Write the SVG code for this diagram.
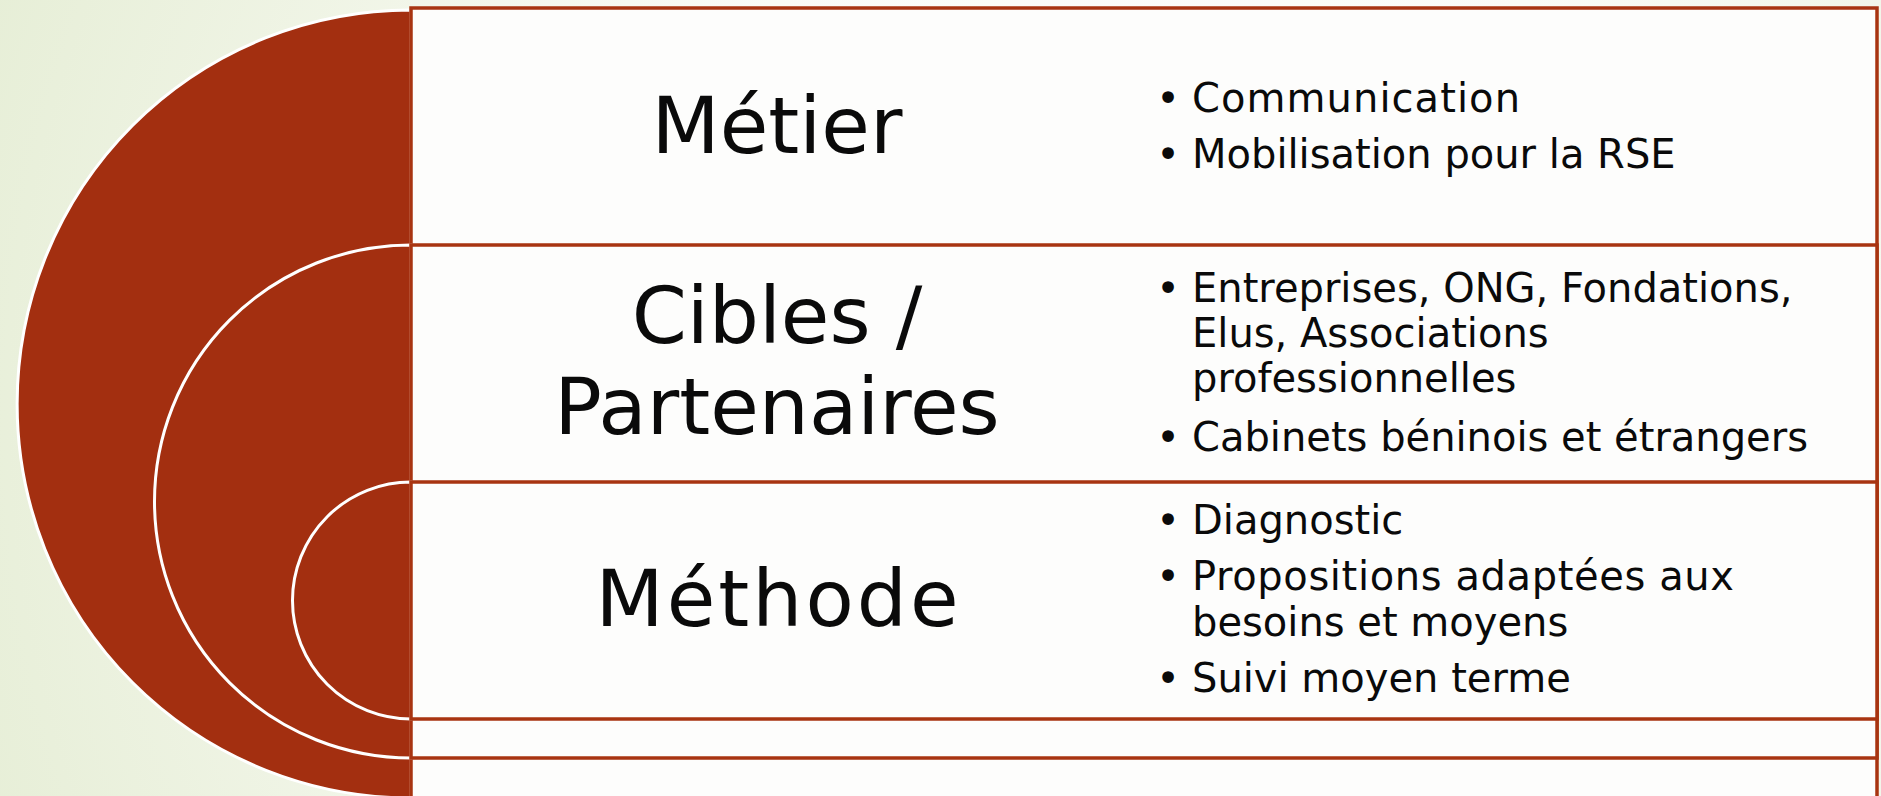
<svg xmlns="http://www.w3.org/2000/svg" width="1881" height="796" viewBox="0 0 1881 796">
  <defs>
    <radialGradient id="bg" cx="1150" cy="420" r="1250" gradientUnits="userSpaceOnUse">
      <stop offset="0" stop-color="#ffffff"/>
      <stop offset="0.45" stop-color="#fafbf6"/>
      <stop offset="1" stop-color="#e6eed6"/>
    </radialGradient>
    <style>
      .disc { fill: #a32f10; stroke: #ffffff; stroke-width: 3; }
      .cell { fill: #fdfdfc; stroke: #a83411; stroke-width: 3.5; }
      .label { font-family: "Century Gothic", "DejaVu Sans", sans-serif; font-size: 79px; fill: #0a0a0a; text-anchor: middle; }
      .item { font-family: "Century Gothic", "DejaVu Sans", sans-serif; font-size: 40px; fill: #0a0a0a; }
      .dot { font-family: "DejaVu Sans", sans-serif; font-size: 40px; fill: #0a0a0a; text-anchor: middle; }
    </style>
  </defs>
  <rect x="0" y="0" width="1881" height="796" fill="url(#bg)"/>

  <g id="level-metier">
    <path class="disc" d="M 411 10 A 394 394 0 0 0 411 798 Z"/>
    <rect class="cell" x="411" y="8" width="1466" height="800"/>
    <text class="label" x="777" y="153">Métier</text>
    <text class="dot" x="1168" y="112">•</text>
    <text class="item" x="1192" y="112" textLength="328" lengthAdjust="spacing">Communication</text>
    <text class="dot" x="1168" y="168">•</text>
    <text class="item" x="1192" y="168">Mobilisation pour la RSE</text>
  </g>

  <g id="level-cibles">
    <path class="disc" d="M 411 245 A 256.5 256.5 0 0 0 411 758 Z"/>
    <rect class="cell" x="411" y="245" width="1466" height="513"/>
    <text class="label" x="777" y="343">Cibles /</text>
    <text class="label" x="777" y="434">Partenaires</text>
    <text class="dot" x="1168" y="302">•</text>
    <text class="item" x="1192" y="302">Entreprises, ONG, Fondations,</text>
    <text class="item" x="1192" y="347">Elus, Associations</text>
    <text class="item" x="1192" y="392">professionnelles</text>
    <text class="dot" x="1168" y="451">•</text>
    <text class="item" x="1192" y="451">Cabinets béninois et étrangers</text>
  </g>

  <g id="level-methode">
    <path class="disc" d="M 411 482 A 118.5 118.5 0 0 0 411 719 Z"/>
    <rect class="cell" x="411" y="482" width="1466" height="237"/>
    <text class="label" x="777" y="626" textLength="363" lengthAdjust="spacing">Méthode</text>
    <text class="dot" x="1168" y="534">•</text>
    <text class="item" x="1192" y="534">Diagnostic</text>
    <text class="dot" x="1168" y="590">•</text>
    <text class="item" x="1192" y="590" textLength="542" lengthAdjust="spacing">Propositions adaptées aux</text>
    <text class="item" x="1192" y="636">besoins et moyens</text>
    <text class="dot" x="1168" y="692">•</text>
    <text class="item" x="1192" y="692">Suivi moyen terme</text>
  </g>
</svg>
